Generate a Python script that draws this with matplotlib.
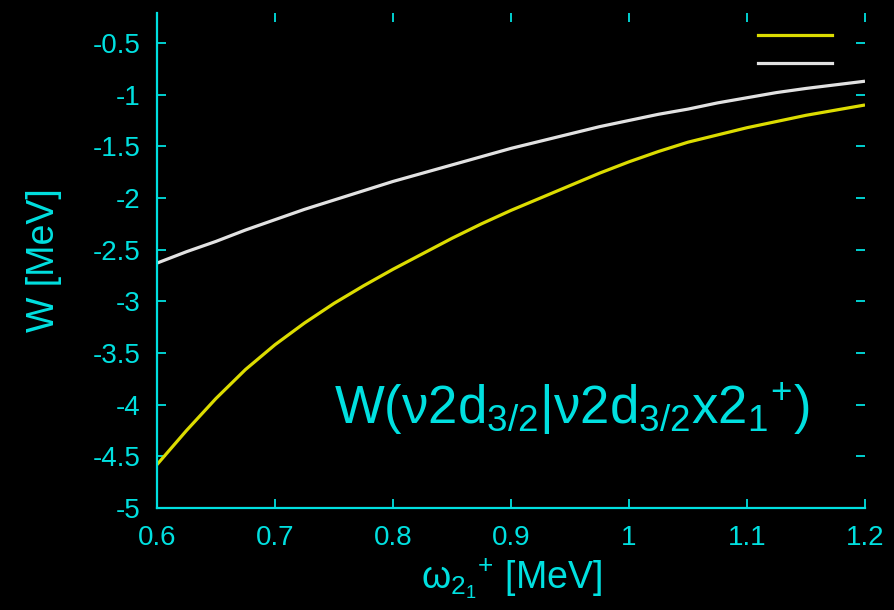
import matplotlib
matplotlib.use("Agg")
import matplotlib.pyplot as plt
from matplotlib.lines import Line2D
from matplotlib.ticker import FuncFormatter

plt.rcParams['font.family'] = ['Liberation Sans', 'DejaVu Sans']
plt.rcParams['mathtext.fontset'] = 'custom'
plt.rcParams['mathtext.rm'] = 'Liberation Sans'
plt.rcParams['mathtext.it'] = 'Liberation Sans'
plt.rcParams['mathtext.default'] = 'regular'

# data
x_yellow = [0.600, 0.625, 0.650, 0.675, 0.700, 0.725, 0.750, 0.775, 0.800, 0.825, 0.850, 0.875, 0.900,
            0.925, 0.950, 0.975, 1.000, 1.025, 1.050, 1.075, 1.100, 1.125, 1.150, 1.175, 1.200]
w_yellow = [-4.58, -4.25, -3.94, -3.66, -3.42, -3.21, -3.02, -2.85, -2.69, -2.54, -2.39, -2.25, -2.12,
            -2.00, -1.88, -1.76, -1.65, -1.55, -1.46, -1.39, -1.32, -1.26, -1.20, -1.15, -1.10]
x_white = [0.600, 0.625, 0.650, 0.675, 0.700, 0.725, 0.750, 0.775, 0.800, 0.825, 0.850, 0.875, 0.900,
           0.925, 0.950, 0.975, 1.000, 1.025, 1.050, 1.075, 1.100, 1.125, 1.150, 1.175, 1.200]
w_white = [-2.63, -2.52, -2.42, -2.31, -2.21, -2.11, -2.02, -1.93, -1.84, -1.76, -1.68, -1.60, -1.52,
           -1.45, -1.38, -1.31, -1.25, -1.19, -1.14, -1.08, -1.03, -0.98, -0.94, -0.905, -0.87]
x_ticks = [0.6, 0.7, 0.8, 0.9, 1.0, 1.1, 1.2]
y_ticks = [-5, -4.5, -4, -3.5, -3, -2.5, -2, -1.5, -1, -0.5]

CYAN = '#00e0e0'
YELLOW = '#dcdc00'
WHITE = '#e2e2e2'

fig = plt.figure(figsize=(8.95, 6.10), dpi=100, facecolor='black')
ax = fig.add_axes([157/895, 1-508/610, (865-157)/895, (508-13)/610], facecolor='black')

ax.plot(x_yellow, w_yellow, color=YELLOW, lw=2.3, solid_capstyle='butt')
ax.plot(x_white, w_white, color=WHITE, lw=2.3, solid_capstyle='butt')

ax.set_xlim(0.6, 1.2)
ax.set_ylim(-5, -0.21)
ax.set_xticks(x_ticks)
ax.set_yticks(y_ticks)

def fmt(v, pos):
    return '%g' % v
ax.xaxis.set_major_formatter(FuncFormatter(fmt))
ax.yaxis.set_major_formatter(FuncFormatter(fmt))

for side in ['top', 'right']:
    ax.spines[side].set_visible(False)
for side in ['left', 'bottom']:
    ax.spines[side].set_color(CYAN)
    ax.spines[side].set_linewidth(1.6)

ax.tick_params(axis='both', which='both', direction='in', length=6.5, width=1.3,
               color=CYAN, labelcolor=CYAN, labelsize=20, top=True, right=True)
ax.tick_params(axis='x', pad=12)
ax.tick_params(axis='y', pad=12)

ax.set_xlabel(r'ω$_{2_1}$$^{+}$ [MeV]', color=CYAN, fontsize=27, labelpad=4)
ax.set_ylabel('W [MeV]', color=CYAN, fontsize=27, labelpad=22)

ax.text(0.922, 0.2, r'W(ν2d$_{3/2}$|ν2d$_{3/2}$x2$_1$$^{+}$)', transform=ax.transAxes,
        color=CYAN, fontsize=38, ha='right', va='center')

handles = [Line2D([], [], color=YELLOW, lw=2.3), Line2D([], [], color=WHITE, lw=2.3)]
ax.legend(handles, ['', ''], loc='upper right', bbox_to_anchor=((843-157)/708, 1.0),
          frameon=False, fontsize=20, handlelength=2.65, handletextpad=0, borderpad=0.41,
          borderaxespad=0, labelspacing=0.08)

fig.savefig('out.png', dpi=100, facecolor='black')
